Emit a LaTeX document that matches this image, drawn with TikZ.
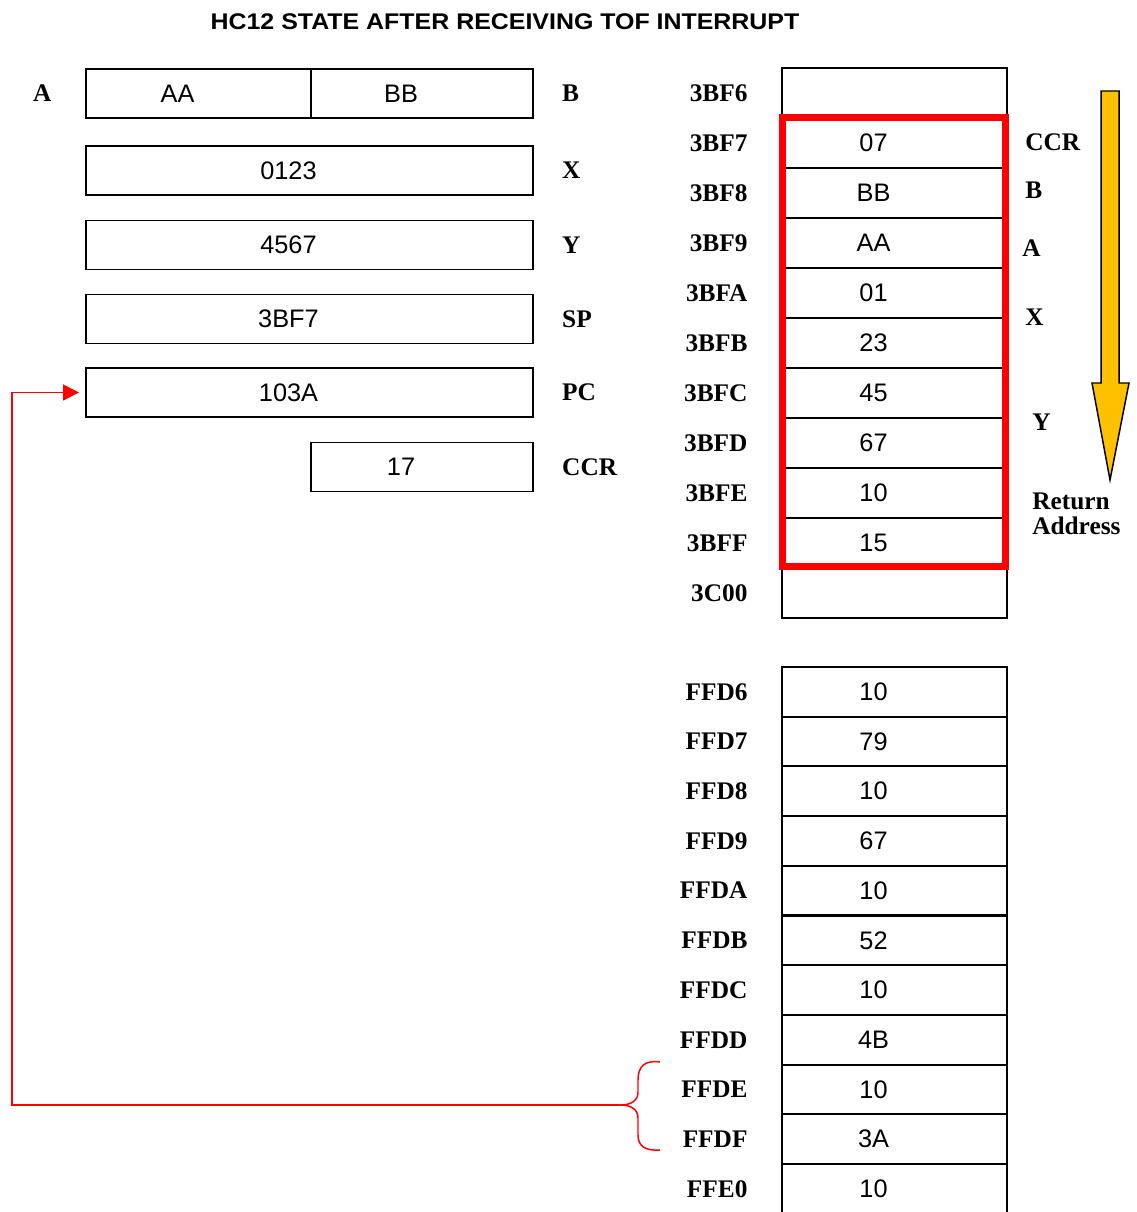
\documentclass[tikz,border=0pt]{standalone}
\usepackage{fontspec}
\usepackage{tikz}
\usetikzlibrary{arrows.meta, positioning, calc}
\newfontfamily\valfont{Liberation Sans}
\newfontfamily\adrfont{Liberation Serif}
\newfontfamily\titlefont[FakeStretch=1.1]{Liberation Sans}
\definecolor{stackgelb}{HTML}{FFC000}

\begin{document}
\begin{tikzpicture}[x=0.75pt, y=-0.75pt,
    reg/.style={draw, line width=1.4pt, minimum height=36.75pt, inner sep=0pt,
      font=\valfont\fontsize{19}{19}\selectfont, execute at end node={\kern31.5pt}},
    cell/.style={reg, minimum width=168.75pt, minimum height=37.4pt},
    adr/.style={inner sep=0pt, font=\adrfont\bfseries\fontsize{19}{19}\selectfont},
    link/.style={red, line width=1.1pt}]
    \clip (0,0) rectangle (1136,1212);
    % Titel
    \node[font=\titlefont\bfseries\fontsize{17}{17}\selectfont] (titel) at (505,22) {HC12 STATE AFTER RECEIVING TOF INTERRUPT};
    % Register
    \node[reg, minimum width=168.75pt] (regA) at (198.5,93.5) {AA};
    \node[reg, minimum width=166.5pt] (regB) at (422,93.5) {BB};
    \node[reg, minimum width=335.25pt] (regX) at (309.5,170.5) {0123};
    \node[reg, minimum width=335.25pt] (regY) at (309.5,245) {4567};
    \node[reg, minimum width=335.25pt] (regSP) at (309.5,319) {3BF7};
    \node[reg, minimum width=335.25pt] (regPC) at (309.5,392.5) {103A};
    \node[reg, minimum width=166.5pt] (regCCR) at (422,467) {17};
    \node[adr, left=25pt of regA] (labA) {A};
    \node[adr, right=21pt of regB] (labB) {B};
    \node[adr, right=21pt of regX] (labX) {X};
    \node[adr, right=21pt of regY] (labY) {Y};
    \node[adr, right=21pt of regSP] (labSP) {SP};
    \node[adr, right=21pt of regPC] (labPC) {PC};
    \node[adr, right=21pt of regCCR] (labCCR) {CCR};
    % Stack
    \foreach \adr/\val [count=\i from 0] in {3BF6/{},3BF7/07,3BF8/BB,3BF9/AA,3BFA/01,3BFB/23,3BFC/45,3BFD/67,3BFE/10,3BFF/15,3C00/{}} {
      \node[cell] (st\i) at (894.5,93+50*\i) {\val};
      \node[adr, left=25pt of st\i] (sta\i) {\adr};
    }
    \draw[red, line width=5.25pt] ($(st1.north west)+(1.5,0)$) rectangle ($(st9.south east)+(-2.5,-2.5)$);
    \node[adr, anchor=west] (stCCR) at (1025,142) {CCR};
    \node[adr, anchor=west] (stB) at (1025,190) {B};
    \node[adr, anchor=west] (stA) at (1022,248) {A};
    \node[adr, anchor=west] (stX) at (1025,317) {X};
    \node[adr, anchor=west] (stY) at (1032,422) {Y};
    \node[anchor=west, align=left, inner sep=0pt, font=\adrfont\bfseries\fontsize{19}{19}\selectfont] (stRet) at (1032,514) {Return\\Address};
    % Pfeil (Stack waechst)
    \draw[fill=stackgelb, line width=1.1pt] (1101,91) -- (1119,91) -- (1119,383) -- (1129,383) -- (1110,480) -- (1092,383) -- (1101,383) -- cycle;
    % Vektortabelle
    \foreach \adr/\val [count=\i from 0] in {FFD6/10,FFD7/79,FFD8/10,FFD9/67,FFDA/10,FFDB/52,FFDC/10,FFDD/4B,FFDE/10,FFDF/3A,FFE0/10} {
      \node[cell] (vec\i) at (894.5,691.85+49.7*\i) {\val};
      \node[adr, left=25pt of vec\i] (veca\i) {\adr};
    }
    % Klammer und Sprung zum PC
    \coordinate (klammer) at (620,1105);
    \draw[link] (660,1062) .. controls (645,1060) and (638,1066) .. (638,1080) -- (638,1092)
      .. controls (638,1100) and (632,1105) .. (klammer)
      .. controls (632,1105) and (638,1110) .. (638,1118) -- (638,1135)
      .. controls (638,1146) and (645,1151) .. (660,1150);
    \coordinate (knick) at (12,1105);
    \draw[link, -{Triangle[length=12pt,width=12pt]}, shorten >=4.5pt] (klammer) -- (knick) |- (regPC.west);
\end{tikzpicture}
\end{document}
